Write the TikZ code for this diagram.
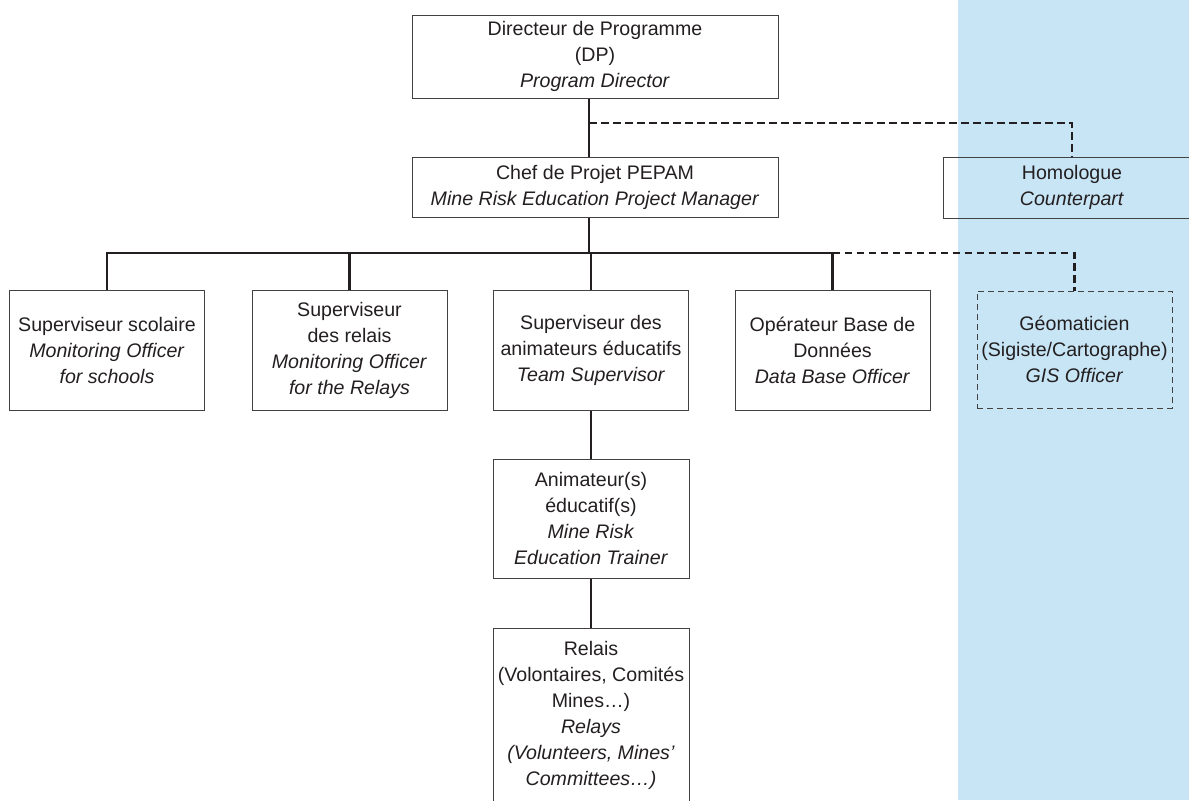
\documentclass[tikz,border=0pt]{standalone}
\usepackage{fontspec}
\setmainfont{Liberation Sans}
\usetikzlibrary{positioning,calc}
\definecolor{bandblue}{RGB}{200,229,246}
\definecolor{inkgray}{RGB}{35,31,32}

\begin{document}
\begin{tikzpicture}[x=0.5pt, y=-0.5pt,
    orgbox/.style={draw=inkgray!85, line width=0.5pt, align=center, inner sep=0pt,
                   text=inkgray, font=\fontsize{9.8}{13}\selectfont},
    kidbox/.style={orgbox, minimum width=97.5pt, minimum height=60pt},
    link/.style={draw=inkgray, line width=1.25pt},
    dashlink/.style={link, dash pattern=on 3.8pt off 2.2pt}]
                \useasboundingbox (0,0) rectangle (1189,800);
                \clip (0,0) rectangle (1189,800);

                % Partner side band
                \fill[bandblue] (958,0) rectangle (1189,800);

                % Top management
                \node[orgbox, minimum width=183pt, minimum height=41.5pt] (dp) at (595,56.5)
                    {Directeur de Programme\\(DP)\\\textit{Program Director}};
                \node[orgbox, minimum width=183pt, minimum height=30pt] (chef) at (595,187)
                    {Chef de Projet PEPAM\\\textit{Mine Risk Education Project Manager}};
                \node[orgbox, minimum width=129pt, minimum height=30.5pt] (homol) at (1072,187.5)
                    {Homologue\\\textit{Counterpart}};

                % Second level
                \node[kidbox] (sco) at (107,350)
                    {Superviseur scolaire\\\textit{Monitoring Officer}\\\textit{for schools}};
                \node[kidbox] (rel) at (349.5,350)
                    {Superviseur\\des relais\\\textit{Monitoring Officer}\\\textit{for the Relays}};
                \node[kidbox] (anim) at (591,350)
                    {Superviseur des\\animateurs éducatifs\\\textit{Team Supervisor}};
                \node[kidbox] (bdd) at (832.5,350)
                    {Opérateur Base de\\Données\\\textit{Data Base Officer}};
                \node[kidbox, minimum height=58.5pt, dash pattern=on 3pt off 2pt] (gis) at (1074.5,349.5)
                    {Géomaticien\\(Sigiste/Cartographe)\\\textit{GIS Officer}};

                % Field level
                \node[orgbox, minimum width=98pt, minimum height=59.5pt] (edu) at (591,518.5)
                    {Animateur(s)\\éducatif(s)\\\textit{Mine Risk}\\\textit{Education Trainer}};
                \node[orgbox, minimum width=98pt, minimum height=87pt] (relais) at (591,715)
                    {Relais\\(Volontaires, Comités\\Mines…)\\\textit{Relays}\\\textit{(Volunteers, Mines’}\\\textit{Committees…)}};

                % Connectors
                \coordinate (dpjoin) at (589,123);
                \coordinate (bar) at (589,253);
                \draw[link] (dp.south -| dpjoin) -- (chef.north -| dpjoin);
                \draw[dashlink] (dpjoin) -| (homol.north);
                \draw[link] (chef.south -| bar) -- (bar);
                \draw[link] (sco.north) |- (bar) -| (bdd.north);
                \draw[link] (rel.north) -- (rel.north |- bar);
                \draw[link] (anim.north) -- (anim.north |- bar);
                \draw[dashlink] (bdd.north |- bar) -| (gis.north);
                \draw[link] (anim.south) -- (edu.north);
                \draw[link] (edu.south) -- (relais.north);
            \end{tikzpicture}
\end{document}
